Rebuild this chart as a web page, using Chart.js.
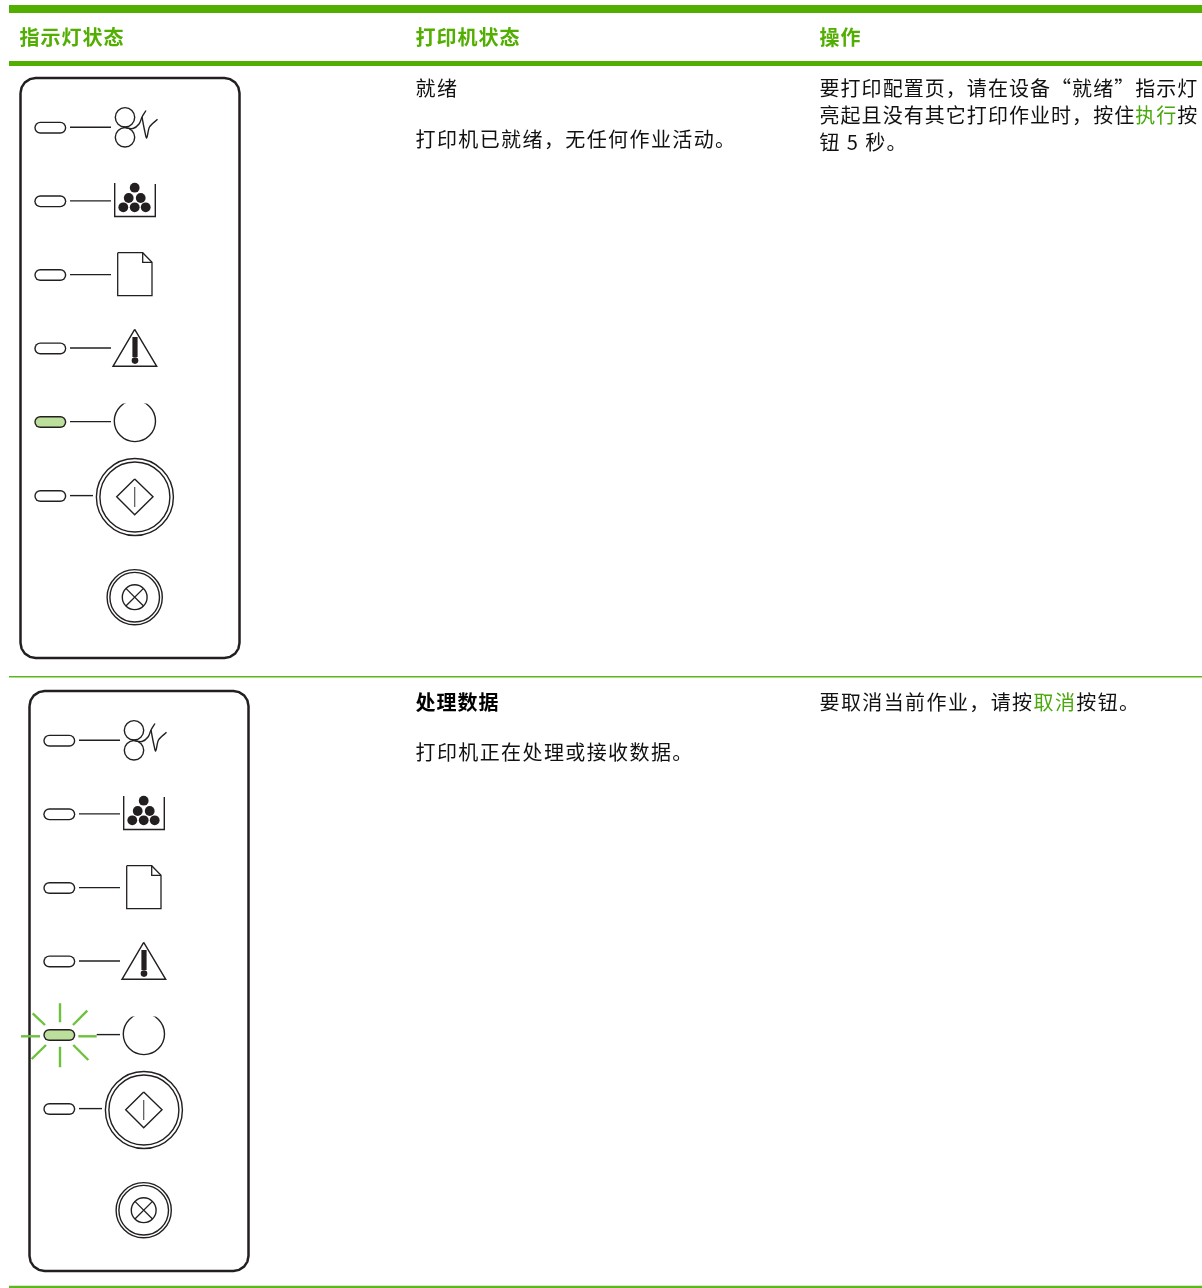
<!DOCTYPE html>
<html lang="zh-CN">
<head>
  <meta charset="UTF-8">
  <title>指示灯状态</title>
  <style>
    html, body { margin: 0; padding: 0; background: #fff; }
    #page { position: relative; width: 1202px; height: 1288px; overflow: hidden; }
    canvas { position: absolute; left: 0; top: 0; }
    .t {
      position: absolute;
      font-family: 'Noto Sans CJK SC', sans-serif;
      font-size: 20px;
      letter-spacing: 1.4px;
      line-height: 28px;
      color: #111;
      white-space: pre;
    }
    .head { color: #52ae00; font-weight: 700; letter-spacing: 1px; }
    .bold { color: #000; font-weight: 700; letter-spacing: 1px; }
    .tight { letter-spacing: 1.05px; }
    .t span { color: #4aa80c; }
  </style>
  <script src="https://cdn.jsdelivr.net/npm/chart.js"></script>
</head>
<body>
  <div id="page"><canvas id="panelChart" width="1202" height="1288"></canvas></div>

  <script>
    // Table text: [x, y of line centre, class, text]  (* marks the green words)
    const headerCells = [[19.5, 36.5, '指示灯状态'], [415.5, 36.5, '打印机状态'], [819.5, 36.5, '操作']];
    const bodyCells = [
      [415.5, 87.5, '', '就绪'],
      [415.5, 138.5, '', '打印机已就绪，无任何作业活动。'],
      [819.5, 87.5, 'tight', '要打印配置页，请在设备“就绪”指示灯'],
      [819.5, 114.5, 'tight', '亮起且没有其它打印作业时，按住*执行*按'],
      [819.5, 141.5, '', '钮 5 秒。'],
      [415.5, 701.5, 'bold', '处理数据'],
      [415.5, 751.5, '', '打印机正在处理或接收数据。'],
      [819.5, 701.5, '', '要取消当前作业，请按*取消*按钮。']
    ];

    // Table rules
    const topRule = [[9, 9], [1202, 9]];
    const headRule = [[9, 63.5], [1202, 63.5]];
    const rowRule = [[9, 676.7], [1202, 676.7]];
    const bottomRule = [[9, 1287], [1202, 1287]];

    // Panel drawing; the second is the same drawing moved
    const panelOutline = [
      [20.5, 93], [21.6, 87.4], [24.9, 82.4], [29.9, 79.1], [35.5, 78],
      [224.5, 78], [230.1, 79.1], [235.1, 82.4], [238.4, 87.4], [239.5, 93],
      [239.5, 643], [238.4, 648.6], [235.1, 653.6], [230.1, 656.9], [224.5, 658],
      [35.5, 658], [29.9, 656.9], [24.9, 653.6], [21.6, 648.6], [20.5, 643], [20.5, 93]
    ];
    const ledRows = [127.7, 201.3, 275, 348.4, 422, 496];
    const ledSpan = [40.3, 60.3];
    const connectorEnds = [111, 111, 111, 111, 111, 93];
    const rollers = [[125, 117.3], [125, 137.3]];
    const feedCurve = [[123, 127], [133, 128.5], [139, 124], [142, 117], [146, 110.5]];
    const feedTail = [[142, 117], [144.5, 130], [146.7, 138], [149.5, 127], [157.5, 119.3]];
    const tonerBin = [[114.7, 183], [114.7, 216.5], [155.3, 216.5], [155.3, 184]];
    const tonerDots = [[134.7, 187.7], [128.7, 198], [140.7, 198], [123.3, 207.3], [134.7, 207.3], [145.7, 207.3]];
    const sheet = [[117.7, 252.7], [142.7, 252.7], [152, 262.3], [152, 295.7], [117.7, 295.7], [117.7, 252.7]];
    const sheetFold = [[142.7, 252.7], [142.7, 262.3], [152, 262.3]];
    const warnTriangle = [[134.7, 329.3], [156.7, 366.3], [113, 366.3], [134.7, 329.3]];
    const warnBar = [[135, 337], [135, 357]];
    const warnDot = [[135, 360.6]];
    const powerRing = [[134.9, 421]];
    const powerGap = [[121, 399.5], [148, 399.5]];
    const goButton = [[134.9, 497]];
    const goDiamond = [[134.7, 479], [153, 496.7], [134.7, 514.7], [116.7, 496.7], [134.7, 479]];
    const goStem = [[134.7, 487], [134.7, 507]];
    const cancelButton = [[134.7, 597.2]];
    const cancelCrossA = [[125.9, 588.4], [143.5, 606]];
    const cancelCrossB = [[143.5, 588.4], [125.9, 606]];

    // Blink rays around the lit LED of the second panel (already in page position)
    const blinkRays = [
      [[60, 1003.3], [60, 1022.3]],
      [[60, 1046.7], [60, 1067.3]],
      [[21, 1036.3], [40, 1036.3]],
      [[78.3, 1036.3], [96.7, 1036.3]],
      [[32.7, 1013.3], [45, 1025]],
      [[87.3, 1010.7], [73, 1025]],
      [[31.7, 1059], [46, 1045]],
      [[88.3, 1060], [73.3, 1045]]
    ];

    const ink = '#231f20';
    const green = '#52ae00';
    const ray = '#6cc23c';
    const ledOn = '#bcdf9c';

    const datasets = [];

    function toXY(points, dx, dy) {
      return points.map(p => ({ x: p[0] + dx, y: p[1] + dy }));
    }

    function addLine(points, color, width, extra) {
      datasets.push(Object.assign({
        data: points,
        showLine: true,
        borderColor: color,
        borderWidth: width,
        pointRadius: 0,
        fill: false,
        clip: false
      }, extra || {}));
    }

    function addDots(points, radius, fillColor, stroke, width) {
      datasets.push({
        data: points,
        showLine: false,
        pointRadius: radius,
        pointBackgroundColor: fillColor,
        pointBorderColor: stroke,
        pointBorderWidth: width,
        clip: false
      });
    }

    function addPanel(dx, dy, blinking) {
      const at = pts => toXY(pts, dx, dy);
      addLine(at(panelOutline), ink, 2.5);

      ledRows.forEach((y, i) => {
        const lit = i === 4;
        const startX = blinking && lit ? 87.7 : 70;
        addLine(at([[startX, y - 0.4], [connectorEnds[i], y - 0.4]]), ink, 1.4);
        const pill = at([[ledSpan[0], y], [ledSpan[1], y]]);
        addLine(pill, ink, 12, { borderCapStyle: 'round' });
        addLine(pill, lit ? ledOn : '#ffffff', 9.2, { borderCapStyle: 'round' });
      });

      addDots(at(rollers), 9.7, 'rgba(0,0,0,0)', ink, 1.4);
      addLine(at(feedCurve), ink, 1.4, { tension: 0.4 });
      addLine(at(feedTail), ink, 1.4, { tension: 0.3 });

      addLine(at(tonerBin), ink, 1.4);
      addDots(at(tonerDots), 4.9, ink, ink, 0);

      addLine(at(sheet), ink, 1.3);
      addLine(at(sheetFold), ink, 1.3);

      addLine(at(warnTriangle), ink, 1.4);
      addLine(at(warnBar), ink, 5.2);
      addDots(at(warnDot), 3.3, ink, ink, 0);

      addDots(at(powerRing), 20.6, '#ffffff', ink, 1.4);
      addLine(at(powerGap), '#ffffff', 8);

      addDots(at(goButton), 38.5, '#ffffff', ink, 1.4);
      addDots(at(goButton), 35, '#ffffff', ink, 1.4);
      addLine(at(goDiamond), ink, 1.4);
      addLine(at(goStem), '#555555', 1.2);

      addDots(at(cancelButton), 27.6, '#ffffff', ink, 1.4);
      addDots(at(cancelButton), 24.8, '#ffffff', ink, 1.4);
      addDots(at(cancelButton), 12.4, '#ffffff', ink, 1.4);
      addLine(at(cancelCrossA), ink, 1.3);
      addLine(at(cancelCrossB), ink, 1.3);
    }

    addLine(toXY(topRule, 0, 0), green, 8);
    addLine(toXY(headRule, 0, 0), green, 5);
    addLine(toXY(rowRule, 0, 0), '#5cb81e', 1.4);
    addLine(toXY(bottomRule, 0, 0), '#5cb81e', 2.6);

    addPanel(0, 0, false);
    addPanel(9, 613, true);
    blinkRays.forEach(r => addLine(toXY(r, 0, 0), ray, 2.4));

    // later datasets sit on top
    datasets.forEach((d, i) => { d.order = -i; });

    new Chart(document.getElementById('panelChart').getContext('2d'), {
      type: 'scatter',
      data: { datasets: datasets },
      options: {
        responsive: false,
        animation: false,
        events: [],
        // no extra room for the big button points, the scales must fill the page
        layout: { padding: 0, autoPadding: false },
        plugins: { legend: { display: false }, tooltip: { enabled: false } },
        scales: {
          x: { type: 'linear', display: false, min: 0, max: 1202 },
          y: { type: 'linear', display: false, min: 0, max: 1288, reverse: true }
        }
      }
    });

    // Real text on top of the canvas
    const page = document.getElementById('page');
    function addText(x, y, cls, text) {
      const el = document.createElement('div');
      el.className = 't ' + cls;
      el.style.left = x + 'px';
      el.style.top = (y - 14) + 'px';
      text.split('*').forEach((part, i) => {
        if (i % 2) {
          const s = document.createElement('span');
          s.textContent = part;
          el.appendChild(s);
        } else {
          el.appendChild(document.createTextNode(part));
        }
      });
      page.appendChild(el);
    }
    headerCells.forEach(c => addText(c[0], c[1], 'head', c[2]));
    bodyCells.forEach(c => addText(c[0], c[1], c[2], c[3]));
  </script>
</body>
</html>
